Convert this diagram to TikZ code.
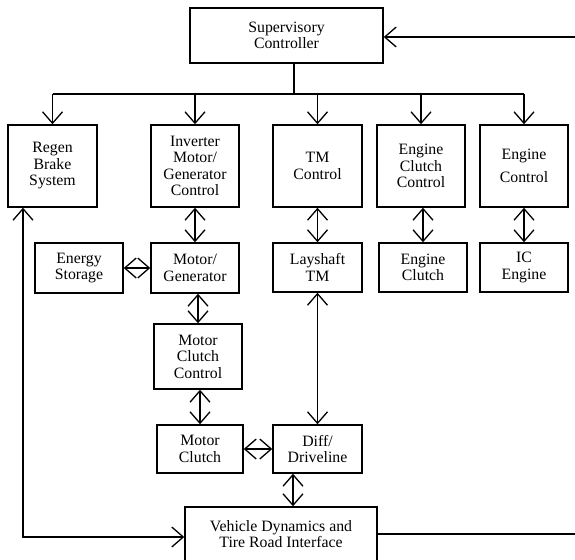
\documentclass[tikz,border=0pt]{standalone}
\usepackage{fontspec}
\setmainfont{Liberation Serif}
\usetikzlibrary{arrows.meta}
\begin{document}
\begin{tikzpicture}[x=1pt,y=-1pt,
  box/.style={draw, line width=1.5pt, align=center, inner sep=0pt,
    font=\fontsize{15.8}{16.5}\selectfont},
  conn/.style={line width=1.5pt},
  tip/.tip={Straight Barb[length=11.5pt,width=20pt,line width=1.3pt]}]
\useasboundingbox (0,0) rectangle (575,559);
% nodes
\node[box, minimum width=193pt, minimum height=55pt] (sup) at (286.5,35.5) {Supervisory\\Controller};
\node[box, minimum width=89pt, minimum height=82pt] (regen) at (52.5,166) {Regen\\Brake\\System};
\node[box, minimum width=88pt, minimum height=82pt] (inv) at (195,166) {Inverter\\Motor/\\Generator\\Control};
\node[box, minimum width=89pt, minimum height=82pt] (tmc) at (317.5,166) {TM\\Control};
\node[box, minimum width=88pt, minimum height=82pt] (ecc) at (421,166) {Engine\\Clutch\\Control};
\node[box, minimum width=88pt, minimum height=82pt] (ec) at (524,166) {Engine\\[7pt]Control};
\node[box, minimum width=88pt, minimum height=50pt] (es) at (79,268) {Energy\\Storage};
\node[box, minimum width=88pt, minimum height=50pt] (mg) at (195,268) {Motor/\\Generator};
\node[box, minimum width=89pt, minimum height=49pt] (lay) at (317.5,267.5) {Layshaft\\TM};
\node[box, minimum width=88pt, minimum height=49pt] (eclu) at (423,267.5) {Engine\\Clutch};
\node[box, minimum width=88pt, minimum height=49pt] (ice) at (524,267.5) {IC\\Engine};
\node[box, minimum width=88pt, minimum height=65pt] (mcc) at (198,356.5) {Motor\\Clutch\\Control};
\node[box, minimum width=86pt, minimum height=48pt] (mc) at (200,449) {Motor\\Clutch};
\node[box, minimum width=89pt, minimum height=48pt] (diff) at (317.5,449) {Diff/\\Driveline};
\node[box, minimum width=192pt, minimum height=54pt] (veh) at (281,534) {Vehicle Dynamics and\\Tire Road Interface};
% coordinates
\coordinate (stem) at (294,94);
\coordinate (lb) at (23,537);
\coordinate (rb) at (577,534);
\coordinate (rt) at (577,37);
% bus from supervisory controller
\draw[conn] (sup.south -| stem) -- (stem);
\draw[conn] (regen.north |- stem) -- (ec.north |- stem);
\foreach \n in {regen,inv,tmc,ecc,ec}
  \draw[conn,-tip] (\n.north |- stem) -- (\n.north);
% vertical links
\draw[conn,tip-tip] (inv.south) -- (mg.north);
\draw[conn,tip-tip] (tmc.south) -- (lay.north);
\draw[conn,tip-tip] (eclu.north |- ecc.south) -- (eclu.north);
\draw[conn,tip-tip] (ec.south) -- (ice.north);
\draw[conn,tip-tip] (es.east) -- (mg.west);
\draw[conn,tip-tip] (mcc.north |- mg.south) -- (mcc.north);
\draw[conn,tip-tip] (mc.north |- mcc.south) -- (mc.north);
\draw[conn,tip-tip] (lay.south) -- (diff.north);
\draw[conn,tip-tip] (mc.east) -- (diff.west);
\draw[conn,tip-tip] ([xshift=-24.5pt]diff.south) -- ([xshift=-24.5pt]diff.south |- veh.north);
% feedback loops
\draw[conn,tip-tip] (regen.south -| lb) -- (lb) -- (lb -| veh.west);
\draw[conn,-tip] (veh.east) -- (rb) -- (rt) -- (rt -| sup.east);
\end{tikzpicture}
\end{document}
